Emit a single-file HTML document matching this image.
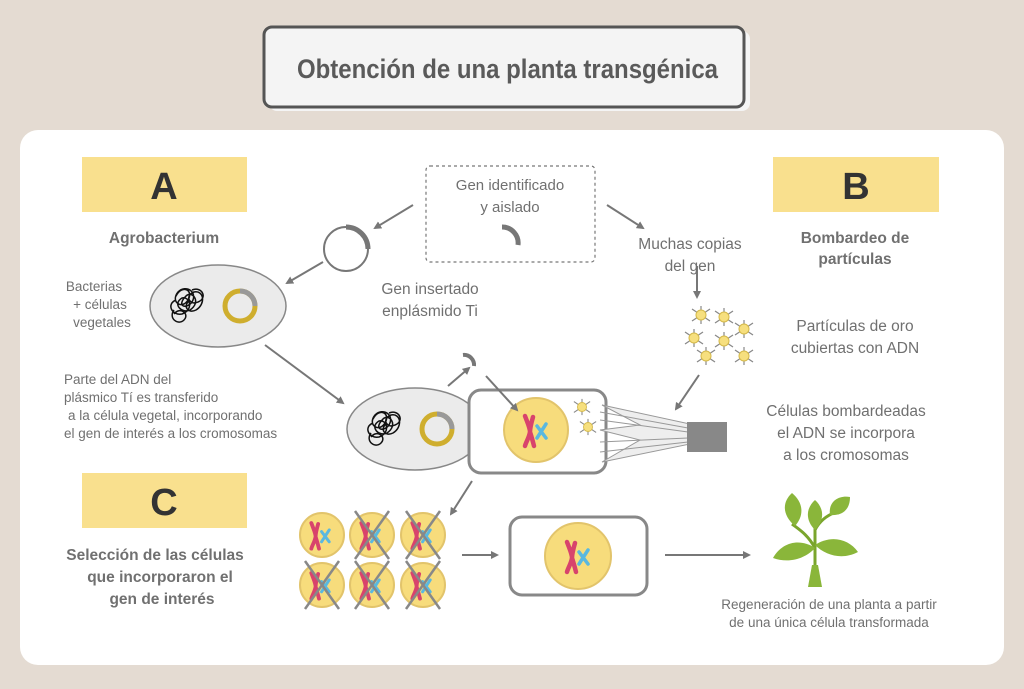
<!DOCTYPE html>
<html><head><meta charset="utf-8"><style>
html,body{margin:0;padding:0;background:#e4dbd2;}
svg{display:block;}
text{font-family:"Liberation Sans",sans-serif;fill:#707070;}
text.dark{fill:#333;}
text.title{fill:#5a5a5a;}
</style></head><body>
<svg width="1024" height="689" viewBox="0 0 1024 689" xmlns="http://www.w3.org/2000/svg">
<defs>
<marker id="ar" markerWidth="8" markerHeight="8" refX="6" refY="4" orient="auto" markerUnits="userSpaceOnUse" viewBox="0 0 8 8"><path d="M0,0 L8,4 L0,8 z" fill="#777"/></marker>
<g id="part"><g stroke="#888" stroke-width="1.2"><line x1="-9" y1="-6" x2="9" y2="6"/><line x1="9" y1="-6" x2="-9" y2="6"/><line x1="0" y1="-9" x2="0" y2="9"/></g><circle r="5" fill="#f6df7e" stroke="#d5b94a" stroke-width="1"/></g>
<g id="chrom"><path d="M-9,-14 C-6,-6 -4,-2 -4,2 C-5,8 -8,12 -9,16 M-1,-13 C-3,-6 -4,-2 -4,2 C-2,8 -1,12 0,16" stroke="#d8436c" stroke-width="4.5" fill="none" stroke-linecap="round"/><path d="M3,-4 L12,8 M12,-6 L3,8" stroke="#5ab8e0" stroke-width="3.5" stroke-linecap="round"/></g>
<g id="cell"><circle r="22" fill="#f7dc7c" stroke="#e2c46b" stroke-width="2"/><use href="#chrom" transform="translate(-3,0) scale(0.85)"/></g>
<g id="cross"><line x1="-17" y1="-24" x2="17" y2="24" stroke="#888" stroke-width="2.5"/><line x1="17" y1="-24" x2="-17" y2="24" stroke="#888" stroke-width="2.5"/></g>
<g id="tangle" fill="none" stroke="#111" stroke-width="1.5"><path d="M-14,-10 c6,-12 18,-6 12,4 c-6,10 -18,2 -10,-8 c8,-8 20,0 14,10 c-6,8 -16,4 -6,-6 c6,-6 16,6 4,14 c-8,4 -18,-6 -8,-12 c8,-2 12,12 0,16 c-10,2 -16,-10 -6,-14 M2,-16 c10,-4 16,8 6,12 c-8,4 -14,-6 -4,-10 c10,-2 12,12 2,18 c-8,4 -14,-4 -6,-10 M-16,4 c-6,8 4,16 10,10 c6,-6 -4,-14 -10,-6"/></g>
<g id="oval"><ellipse rx="68" ry="41" fill="#ebebeb" stroke="#888" stroke-width="1.5"/><use href="#tangle" transform="translate(-28,0)"/><circle cx="22" cy="0" r="15" fill="none" stroke="#cfae2e" stroke-width="5"/><path d="M22,-15 A15,15 0 0 1 37,0" fill="none" stroke="#999" stroke-width="5"/></g>
</defs>

<!-- title -->
<rect x="269" y="31" width="481" height="80" rx="8" fill="#f4f4f4"/>
<rect x="264" y="27" width="480" height="80" rx="8" fill="#f4f4f4" stroke="#555" stroke-width="3"/>
<text class="title" x="297" y="78" font-size="27" font-weight="bold" textLength="421" lengthAdjust="spacingAndGlyphs">Obtención de una planta transgénica</text>

<!-- panel -->
<rect x="20" y="130" width="984" height="535" rx="18" fill="#fff"/>

<!-- yellow headers -->
<rect x="82" y="157" width="165" height="55" fill="#f9e08e"/>
<text class="dark" x="164" y="199" font-size="38" font-weight="bold" text-anchor="middle">A</text>
<rect x="773" y="157" width="166" height="55" fill="#f9e08e"/>
<text class="dark" x="856" y="199" font-size="38" font-weight="bold" text-anchor="middle">B</text>
<rect x="82" y="473" width="165" height="55" fill="#f9e08e"/>
<text class="dark" x="164" y="515" font-size="38" font-weight="bold" text-anchor="middle">C</text>

<text x="164" y="243" font-size="15.5" font-weight="bold" text-anchor="middle">Agrobacterium</text>
<text x="855" y="243" font-size="15.5" font-weight="bold" text-anchor="middle">Bombardeo de</text>
<text x="855" y="264" font-size="15.5" font-weight="bold" text-anchor="middle">partículas</text>
<g font-size="15.5" font-weight="bold" text-anchor="middle">
<text x="155" y="560">Selección de las células</text>
<text x="160" y="582">que incorporaron el</text>
<text x="162" y="604">gen de interés</text>
</g>

<!-- dashed box -->
<rect x="426" y="166" width="169" height="96" rx="4" fill="none" stroke="#777" stroke-width="1.2" stroke-dasharray="3,3"/>
<text x="510" y="190" font-size="15" text-anchor="middle">Gen identificado</text>
<text x="510" y="212" font-size="15" text-anchor="middle">y aislado</text>
<path d="M502,227 A16,16 0 0 1 518,245" fill="none" stroke="#777" stroke-width="5"/>

<!-- plasmid circle -->
<circle cx="346" cy="249" r="22" fill="none" stroke="#777" stroke-width="2"/>
<path d="M346,227 A22,22 0 0 1 368,249" fill="none" stroke="#777" stroke-width="5"/>

<g stroke="#777" stroke-width="2" marker-end="url(#ar)">
<line x1="413" y1="205" x2="375" y2="228"/>
<line x1="323" y1="262" x2="287" y2="283"/>
<line x1="607" y1="205" x2="643" y2="228"/>
<line x1="265" y1="345" x2="343" y2="403"/>
<line x1="448" y1="386" x2="469" y2="368"/>
<line x1="472" y1="481" x2="451" y2="514"/>
<line x1="697" y1="266" x2="697" y2="297"/>
<line x1="699" y1="375" x2="676" y2="409"/>
<line x1="462" y1="555" x2="497" y2="555"/>
<line x1="665" y1="555" x2="749" y2="555"/>
</g>

<text x="94" y="291" font-size="13.5" text-anchor="middle">Bacterias</text>
<text x="100" y="309" font-size="13.5" text-anchor="middle">+  células</text>
<text x="102" y="327" font-size="13.5" text-anchor="middle">vegetales</text>
<use href="#oval" transform="translate(218,306)"/>

<text x="430" y="294" font-size="15.5" text-anchor="middle">Gen insertado</text>
<text x="430" y="316" font-size="15.5" text-anchor="middle">enplásmido Ti</text>

<text x="690" y="249" font-size="15.5" text-anchor="middle">Muchas copias</text>
<text x="690" y="271" font-size="15.5" text-anchor="middle">del gen</text>

<g font-size="13.5">
<text x="64" y="384">Parte del ADN del</text>
<text x="64" y="402">plásmico Tí es transferido</text>
<text x="68" y="420">a la célula vegetal, incorporando</text>
<text x="64" y="438">el gen de interés a los cromosomas</text>
</g>

<use href="#oval" transform="translate(415,429)"/>
<path d="M463,355 A10,10 0 0 1 474,366" fill="none" stroke="#777" stroke-width="4"/>

<!-- cell box with nucleus -->
<rect x="469" y="390" width="137" height="83" rx="12" fill="#fff" stroke="#888" stroke-width="3"/>
<circle cx="536" cy="430" r="32" fill="#f7dc7c" stroke="#e2c46b" stroke-width="2"/>
<use href="#chrom" transform="translate(534,430)"/>
<line x1="486" y1="376" x2="517" y2="410" stroke="#777" stroke-width="2" marker-end="url(#ar)"/>
<use href="#part" transform="translate(582,407) scale(0.9)"/>
<use href="#part" transform="translate(588,427) scale(0.9)"/>

<!-- blast -->
<path d="M602,405 L690,424 L690,444 L602,462 L640,440 L600,430 L640,425 Z" fill="#eeeeee" stroke="#999" stroke-width="1"/>
<g stroke="#999" stroke-width="1"><line x1="600" y1="412" x2="688" y2="428"/><line x1="600" y1="420" x2="688" y2="432"/><line x1="600" y1="442" x2="688" y2="438"/><line x1="600" y1="452" x2="688" y2="442"/></g>
<rect x="687" y="422" width="40" height="30" fill="#888"/>

<!-- particles -->
<use href="#part" transform="translate(701,315)"/>
<use href="#part" transform="translate(724,317)"/>
<use href="#part" transform="translate(744,329)"/>
<use href="#part" transform="translate(694,338)"/>
<use href="#part" transform="translate(724,341)"/>
<use href="#part" transform="translate(706,356)"/>
<use href="#part" transform="translate(744,356)"/>

<text x="855" y="331" font-size="15.5" text-anchor="middle">Partículas de oro</text>
<text x="855" y="353" font-size="15.5" text-anchor="middle">cubiertas con ADN</text>
<text x="846" y="416" font-size="15.5" text-anchor="middle">Células bombardeadas</text>
<text x="846" y="438" font-size="15.5" text-anchor="middle">el ADN se incorpora</text>
<text x="846" y="460" font-size="15.5" text-anchor="middle">a los cromosomas</text>

<!-- grid of cells -->
<use href="#cell" transform="translate(322,535)"/>
<use href="#cell" transform="translate(372,535)"/>
<use href="#cell" transform="translate(423,535)"/>
<use href="#cell" transform="translate(322,585)"/>
<use href="#cell" transform="translate(372,585)"/>
<use href="#cell" transform="translate(423,585)"/>
<use href="#cross" transform="translate(372,535)"/>
<use href="#cross" transform="translate(423,535)"/>
<use href="#cross" transform="translate(322,585)"/>
<use href="#cross" transform="translate(372,585)"/>
<use href="#cross" transform="translate(423,585)"/>

<rect x="510" y="517" width="137" height="78" rx="12" fill="#fff" stroke="#888" stroke-width="3"/>
<circle cx="578" cy="556" r="33" fill="#f7dc7c" stroke="#e2c46b" stroke-width="2"/>
<use href="#chrom" transform="translate(576,556)"/>

<!-- plant -->
<path d="M815,585 L815,525 M815,548 C808,535 800,530 792,524 M815,530 C820,520 828,515 836,512" stroke="#7aa52c" stroke-width="3" fill="none"/>
<path d="M808,587 L822,587 L818,565 L812,565 Z" fill="#8ab63a"/>
<path d="M815,548 C800,538 782,542 773,558 C790,564 806,558 815,548 Z" fill="#8ab63a"/>
<path d="M815,545 C830,535 848,538 858,552 C843,560 826,556 815,545 Z" fill="#8ab63a"/>
<path d="M795,526 C782,515 782,502 792,493 C804,503 804,516 795,526 Z" fill="#8ab63a"/>
<path d="M830,515 C828,502 838,495 850,497 C850,510 842,516 830,515 Z" fill="#8ab63a"/>
<path d="M815,530 C805,520 806,508 815,500 C824,508 825,520 815,530 Z" fill="#8ab63a"/>

<text x="829" y="609" font-size="13.5" text-anchor="middle">Regeneración de una planta a partir</text>
<text x="829" y="627" font-size="13.5" text-anchor="middle">de una única célula transformada</text>
</svg>
</body></html>
